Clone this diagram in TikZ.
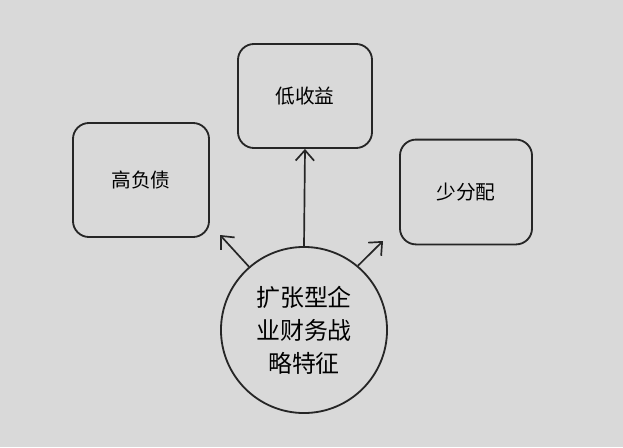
\documentclass[tikz,border=0pt]{standalone}
\usepackage{fontspec}
\newfontfamily\cjk{Noto Sans CJK SC}
\usetikzlibrary{arrows.meta}

\begin{document}
\begin{tikzpicture}[x=0.025cm, y=-0.025cm,
  box/.style={draw=black!85, line width=1.3pt, rounded corners=0.4cm, inner sep=0pt,
    font=\cjk\fontsize{14}{16}\selectfont},
  hubnode/.style={circle, draw=black!85, line width=1.3pt, inner sep=0pt, minimum size=4.15cm,
    align=center, font=\cjk\fontsize{17}{23.5}\selectfont},
  arr/.style={draw=black!85, line width=1.2pt, -{Straight Barb[length=2.6mm,width=4.6mm]}}]
\fill[black!15] (0,0) rectangle (623,447);
\node[box, minimum width=3.4cm, minimum height=2.85cm] (debt) at (141,180) {高负债};
\node[box, minimum width=3.35cm, minimum height=2.6cm] (ret) at (305,96) {低收益};
\node[box, minimum width=3.3cm, minimum height=2.62cm] (div) at (466,192) {少分配};
\node[hubnode] (hub) at (304,330) {扩张型企\\业财务战\\略特征};
\coordinate (ltip) at (220,235);
\coordinate (rtip) at (383,241);
\draw[arr] (hub.north) -- (ret.south);
\draw[arr] (hub.131) -- (ltip);
\draw[arr] (hub.50) -- (rtip);
\end{tikzpicture}
\end{document}
